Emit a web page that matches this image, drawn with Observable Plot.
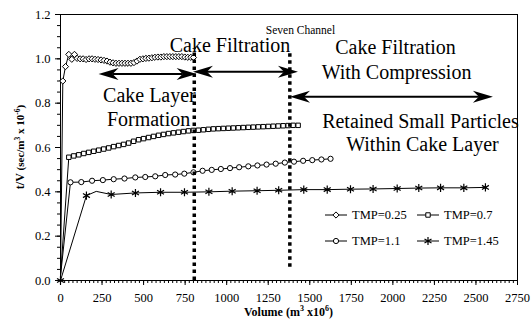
<!DOCTYPE html>
<html><head><meta charset="utf-8">
<script src="https://cdn.jsdelivr.net/npm/d3@7"></script>
<script src="https://cdn.jsdelivr.net/npm/@observablehq/plot@0.6"></script>
<style>body{margin:0;background:#fff} svg{display:block}</style>
</head><body><div id="chart"></div>
<script>
// ---------- data ----------
const seriesNames = ["TMP=0.25", "TMP=0.7", "TMP=1.1", "TMP=1.45"];
const seriesSymbols = ["diamond2", "square", "circle", "asterisk"];

const vol025 = [0, 14, 30, 50, 68, 84, 100, 118, 136, 154, 172, 190, 208, 226, 244, 262, 280, 298, 316, 334, 352, 370, 388, 406, 424, 442, 460, 478, 496, 514, 532, 550, 568, 586, 604, 622, 640, 658, 676, 694, 712, 730, 748, 766, 784, 800];
const tv025 = [0.02, 0.90, 0.965, 1.02, 0.998, 1.02, 1.002, 1.0, 1.0, 0.997, 1.0, 1.0, 0.998, 0.997, 0.995, 0.993, 0.99, 0.985, 0.982, 0.98, 0.98, 0.98, 0.98, 0.98, 0.98, 0.983, 0.99, 0.998, 1.0, 1.002, 1.003, 1.005, 1.007, 1.008, 1.008, 1.01, 1.01, 1.01, 1.01, 1.01, 1.01, 1.01, 1.008, 1.007, 1.007, 1.006];

const vol07 = [0, 50, 80, 110, 140, 170, 200, 230, 260, 290, 320, 350, 380, 410, 440, 470, 500, 530, 560, 590, 620, 650, 680, 710, 740, 770, 800, 830, 860, 890, 920, 950, 980, 1010, 1040, 1070, 1100, 1130, 1160, 1190, 1220, 1250, 1280, 1310, 1340, 1370, 1400, 1430];
const tv07 = [0.02, 0.556, 0.562, 0.567, 0.573, 0.578, 0.583, 0.588, 0.593, 0.598, 0.604, 0.609, 0.614, 0.62, 0.628, 0.635, 0.64, 0.645, 0.65, 0.655, 0.659, 0.663, 0.666, 0.669, 0.672, 0.675, 0.677, 0.678, 0.68, 0.682, 0.684, 0.685, 0.686, 0.687, 0.688, 0.689, 0.69, 0.691, 0.692, 0.693, 0.694, 0.695, 0.696, 0.697, 0.698, 0.699, 0.70, 0.70];

const vol11 = [0, 60, 125, 190, 255, 320, 385, 450, 510, 570, 630, 690, 745, 800, 855, 910, 965, 1020, 1075, 1130, 1185, 1240, 1295, 1350, 1405, 1460, 1515, 1570, 1625];
const tv11 = [0.02, 0.443, 0.444, 0.45, 0.453, 0.457, 0.46, 0.465, 0.467, 0.47, 0.476, 0.478, 0.482, 0.488, 0.495, 0.499, 0.503, 0.507, 0.511, 0.515, 0.519, 0.523, 0.527, 0.532, 0.536, 0.54, 0.543, 0.546, 0.549];

const vol145 = [0, 156, 215, 305, 451, 602, 746, 893, 1033, 1183, 1313, 1464, 1605, 1745, 1881, 2026, 2156, 2287, 2427, 2557];
const tv145 = [0.0, 0.383, 0.402, 0.388, 0.395, 0.398, 0.398, 0.40, 0.403, 0.405, 0.407, 0.41, 0.41, 0.412, 0.413, 0.415, 0.417, 0.418, 0.418, 0.42];
const marked145 = [true, true, false, true, true, true, true, true, true, true, true, true, true, true, true, true, true, true, true, true];

const xTicks = [0, 250, 500, 750, 1000, 1250, 1500, 1750, 2000, 2250, 2500, 2750];
const yTicks = [0, 0.2, 0.4, 0.6, 0.8, 1.0, 1.2];

// stage dividers (volume) and annotation labels
const dividerVol = [805, 1380];
const dividerTop = [1.045, 1.03];
const dividerBottom = [0.0, 0.06];
const arrowFrom = [232, 800, 1384];
const arrowTo = [822, 1432, 2605];
const arrowLevel = [0.929, 0.94, 0.827];
const labelTexts = ["Cake Layer", "Formation", "Cake Filtration", "Cake Filtration", "With Compression", "Retained Small Particles", "Within Cake Layer"];
const labelVol = [535, 530, 1020, 2016, 2022, 2166, 2178];
const labelLevel = [0.807, 0.699, 1.033, 1.024, 0.911, 0.686, 0.586];
const smallLabel = "Seven Channel";
const smallLabelVol = 1444, smallLabelLevel = 1.11;

// ---------- build tables ----------
const seriesX = [vol025, vol07, vol11, vol145];
const seriesY = [tv025, tv07, tv11, tv145];
const rows = [];
seriesNames.forEach((name, s) => {
  seriesX[s].forEach((v, i) => {
    const y = seriesY[s][i];
    const marked = s === 3 ? marked145[i] : y > 0.05;
    rows.push({series: name, s, vol: v, tv: y, marked});
  });
});
const dividers = dividerVol.map((v, i) => ({vol: v, top: dividerTop[i], bottom: dividerBottom[i]}));
const arrows = arrowFrom.map((v, i) => ({from: v, to: arrowTo[i], level: arrowLevel[i]}));
const labels = labelTexts.map((t, i) => ({text: t, vol: labelVol[i], level: labelLevel[i]}));

const W = 531, H = 325;
const font = "'Liberation Serif','Times New Roman',serif";
const symR = [2.8, 2.5, 2.6, 3.8];

function arrowMark(index, scales) {
  const g = d3.create("svg:g");
  const L = 20, hw = 6, notch = 6;
  for (const a of arrows) {
    const x1 = scales.x(a.from), x2 = scales.x(a.to), y = scales.y(a.level);
    g.append("line").attr("x1", x1 + L - notch).attr("x2", x2 - L + notch)
      .attr("y1", y).attr("y2", y).attr("stroke", "black").attr("stroke-width", 2);
    g.append("path").attr("fill", "black")
      .attr("d", `M${x2},${y}L${x2 - L},${y - hw}L${x2 - L + notch},${y}L${x2 - L},${y + hw}Z`);
    g.append("path").attr("fill", "black")
      .attr("d", `M${x1},${y}L${x1 + L},${y - hw}L${x1 + L - notch},${y}L${x1 + L},${y + hw}Z`);
  }
  return g.node();
}

const marks = [
  Plot.axisX({ticks: d3.range(0, 2751, 25), tickSize: 3, tickFormat: () => "", label: null}),
  Plot.axisX({ticks: xTicks, tickSize: 5, tickPadding: 8, tickFormat: d => String(d), label: null, fontSize: 12.5}),
  Plot.axisY({ticks: d3.range(0, 1.2001, 0.05), tickSize: 3, tickFormat: () => "", label: null}),
  Plot.axisY({ticks: yTicks, tickSize: 5, tickPadding: 5, tickFormat: d3.format(".1f"), label: null, fontSize: 12.5}),
  Plot.frame({stroke: "black", strokeWidth: 1})
];
seriesNames.forEach((name, s) => {
  const d = rows.filter(r => r.s === s);
  marks.push(Plot.line(d, {x: "vol", y: "tv", stroke: "black", strokeWidth: 1}));
});
seriesNames.forEach((name, s) => {
  const d = rows.filter(r => r.s === s && r.marked);
  if (seriesSymbols[s] === "asterisk")
    marks.push(Plot.dot(d, {x: "vol", y: "tv", symbol: "asterisk", r: symR[s], stroke: "black", strokeWidth: 1.2}));
  else
    marks.push(Plot.dot(d, {x: "vol", y: "tv", symbol: seriesSymbols[s], r: symR[s], fill: "white", stroke: "black", strokeWidth: 1}));
});
marks.push(Plot.ruleX(dividers, {x: "vol", y1: "bottom", y2: "top", stroke: "black", strokeWidth: 3.5, strokeDasharray: "3.5,3.5"}));
marks.push(arrowMark);
marks.push(Plot.text(labels, {x: "vol", y: "level", text: "text", fontSize: 20, lineAnchor: "bottom", textAnchor: "middle", fill: "black"}));
marks.push(Plot.text([smallLabel], {x: () => smallLabelVol, y: () => smallLabelLevel, text: d => d, fontSize: 11.5, lineAnchor: "bottom", textAnchor: "middle", fill: "black"}));

const plot = Plot.plot({
  width: W, height: H,
  marginLeft: 60, marginRight: 14, marginTop: 14, marginBottom: 45,
  style: {fontFamily: font, fontSize: "12.5px", background: "white", color: "black"},
  x: {domain: [0, 2750], label: null},
  y: {domain: [0, 1.2], label: null},
  marks
});

// ---------- axis titles & legend ----------
const svg = d3.select(plot);
const xs = plot.scale("x"), ys = plot.scale("y");
const xMid = (xs.range[0] + xs.range[1]) / 2;
const yMid = (ys.range[0] + ys.range[1]) / 2;

const xt = svg.append("text").attr("x", xMid).attr("y", 316).attr("text-anchor", "middle")
  .attr("font-family", font).attr("font-weight", "bold").attr("font-size", 12).attr("fill", "black");
xt.append("tspan").text("Volume (m");
xt.append("tspan").attr("dy", -5).attr("font-size", 8).text("3");
xt.append("tspan").attr("dy", 5).text(" x10");
xt.append("tspan").attr("dy", -5).attr("font-size", 8).text("6");
xt.append("tspan").attr("dy", 5).text(")");

const yt = svg.append("text").attr("transform", `translate(24,${yMid}) rotate(-90)`).attr("text-anchor", "middle")
  .attr("font-family", font).attr("font-weight", "bold").attr("font-size", 11).attr("fill", "black");
yt.append("tspan").attr("font-size", 12).text("t/V ");
yt.append("tspan").text("(sec/m");
yt.append("tspan").attr("dy", -4.5).attr("font-size", 7.5).text("3");
yt.append("tspan").attr("dy", 4.5).text(" x 10");
yt.append("tspan").attr("dy", -4.5).attr("font-size", 7.5).text("-6");
yt.append("tspan").attr("dy", 4.5).text(")");

const leg = svg.append("g").attr("font-family", font).attr("font-size", 12.5).attr("fill", "black")
  .attr("text-anchor", "start");
const colX = [325, 417], rowY = [215, 241], lineLen = 22;
const symMap = {diamond2: d3.symbolDiamond2 || d3.symbolDiamond, square: d3.symbolSquare, circle: d3.symbolCircle, asterisk: d3.symbolAsterisk || d3.symbolCross};
seriesNames.forEach((name, s) => {
  const cx = colX[s % 2], cy = rowY[Math.floor(s / 2)];
  leg.append("line").attr("x1", cx).attr("x2", cx + lineLen).attr("y1", cy).attr("y2", cy)
    .attr("stroke", "black").attr("stroke-width", 1);
  const r = symR[s];
  leg.append("path").attr("transform", `translate(${cx + lineLen / 2},${cy})`)
    .attr("d", d3.symbol(symMap[seriesSymbols[s]], r * r * Math.PI)())
    .attr("fill", seriesSymbols[s] === "asterisk" ? "none" : "white").attr("stroke", "black")
    .attr("stroke-width", seriesSymbols[s] === "asterisk" ? 1.2 : 1);
  leg.append("text").attr("x", cx + lineLen + 5).attr("y", cy + 4.3).attr("text-anchor", "start").text(name);
});

document.getElementById("chart").appendChild(plot);
</script>
</body></html>
